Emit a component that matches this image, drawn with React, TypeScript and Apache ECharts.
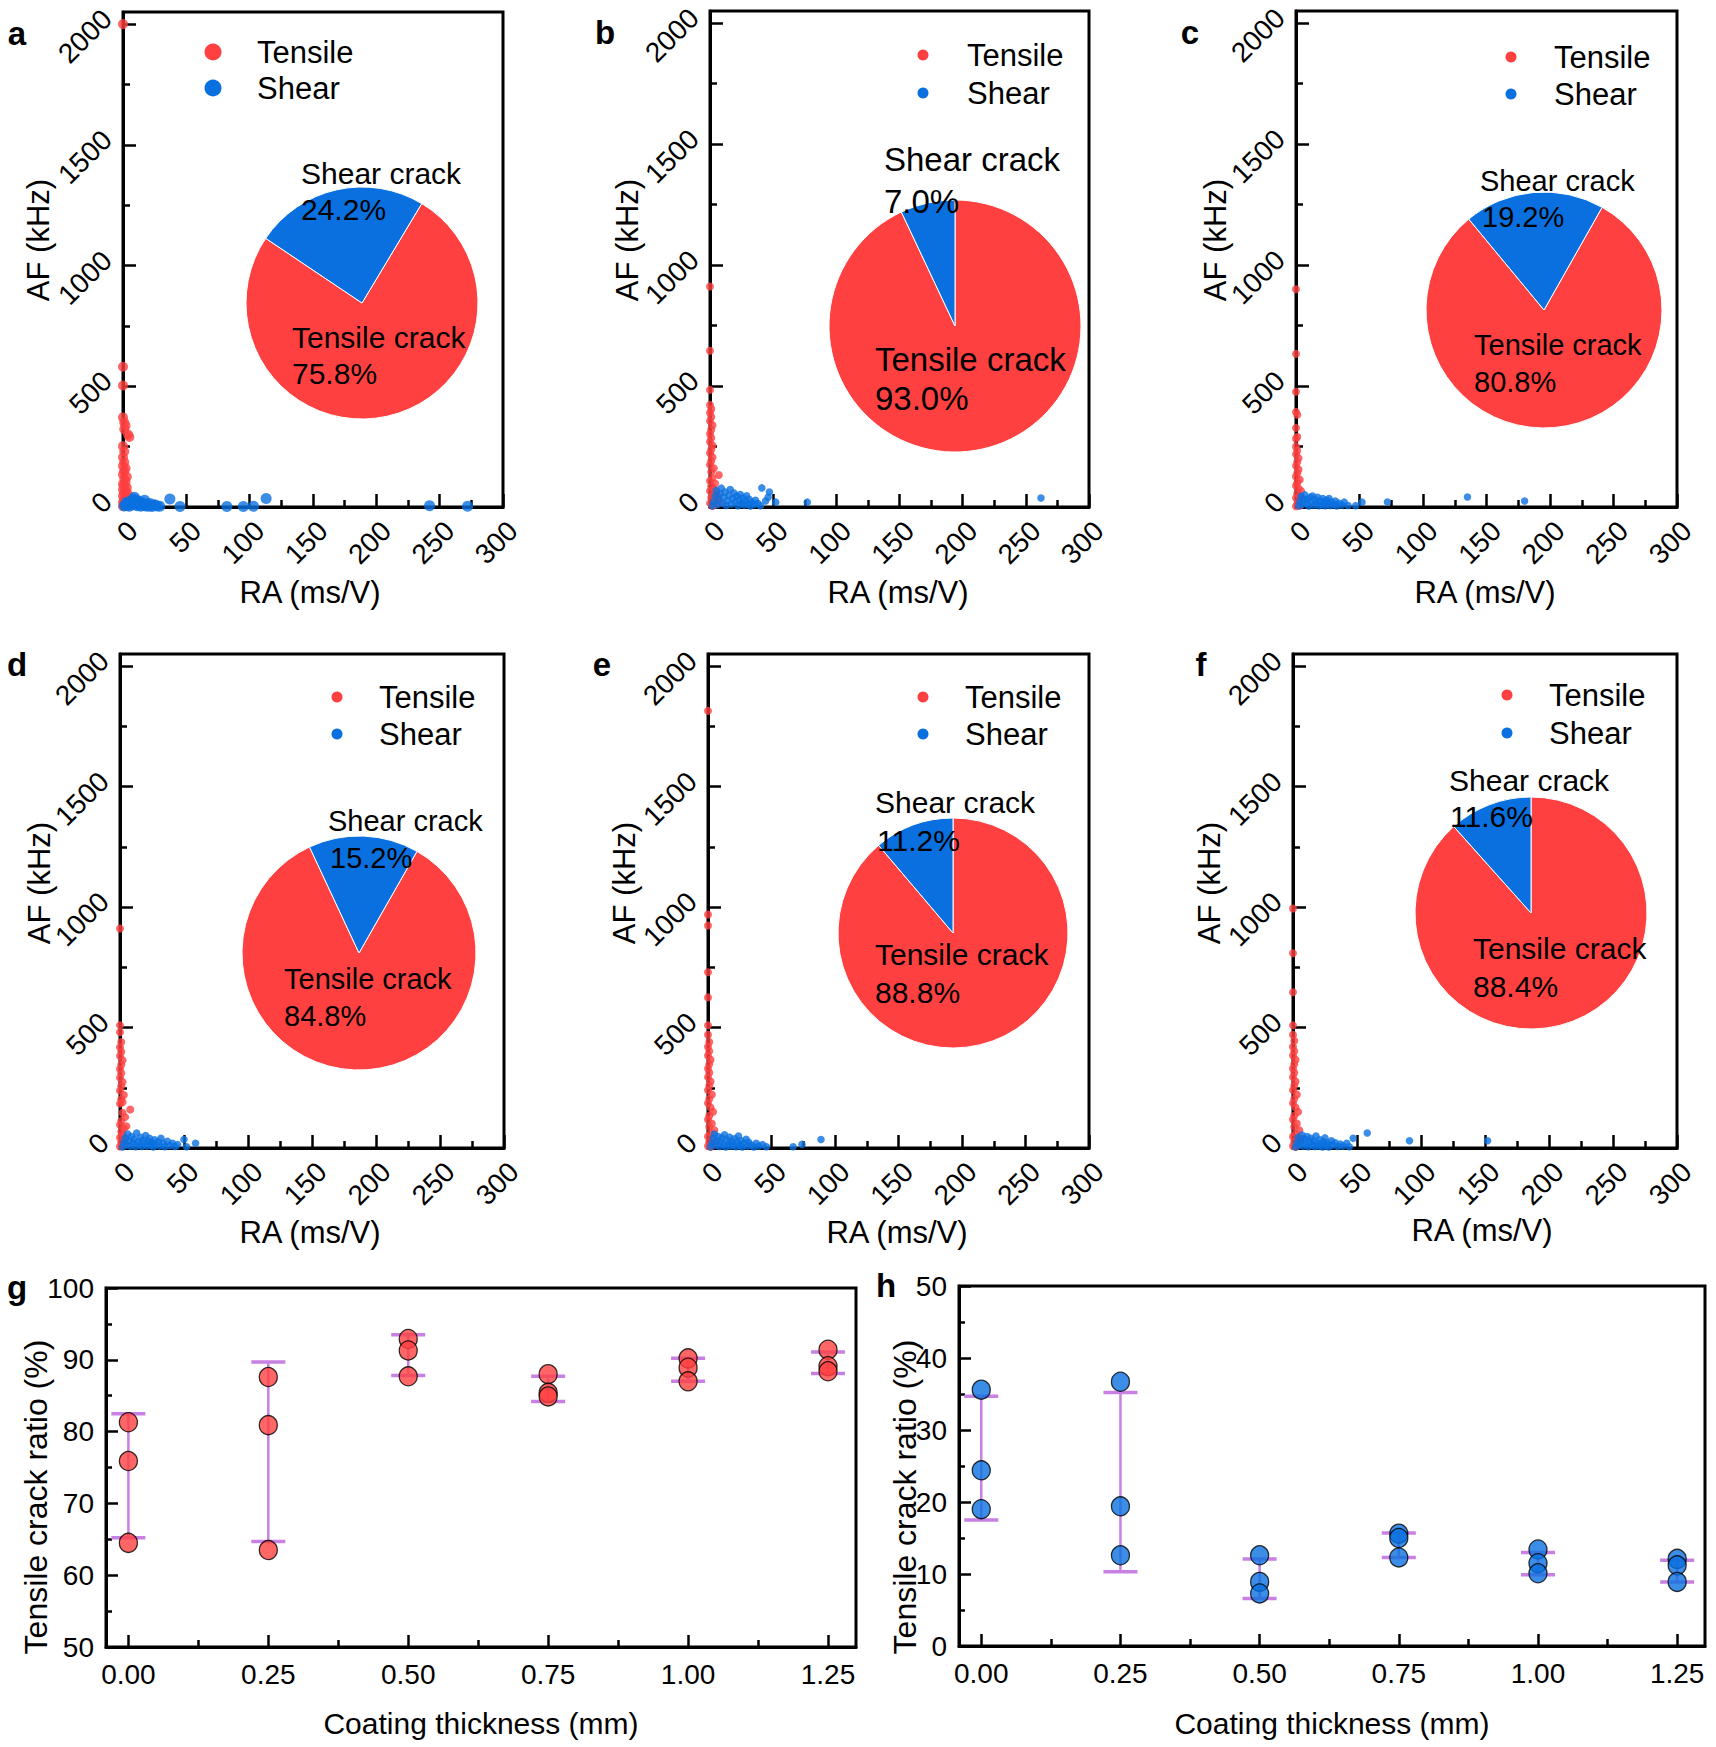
import React, { useEffect, useRef } from "react";
import * as echarts from "echarts";

// ---------------- DATA ----------------
// Panels a–f: [RA (ms/V), AF (kHz)]
const tensileA = [[0,2000],[0,581],[0,503],[0,371],[1,350],[2,336],[1,322],[4,300],[5,290],[0,252],[1,230],[0,206],[1,185],[0,170],[2,160],[1,148],[0,135],[3,125],[1,115],[2,105],[0,95],[1,88],[3,80],[0,72],[2,65],[1,58],[4,52],[0,46],[2,40],[3,34],[1,28],[5,24],[0,20],[2,15],[4,11],[1,8],[3,5],[0,3],[6,14],[2,28]];
const shearA = [[1,4],[2,10],[3,6],[4,16],[5,3],[6,24],[7,9],[8,32],[9,40],[10,14],[11,5],[12,26],[13,10],[14,3],[15,18],[16,7],[17,28],[18,4],[19,12],[20,3],[21,15],[22,7],[23,2],[25,9],[27,4],[29,3],[5,12],[3,20],[10,28],[13,20],[7,18],[11,12],[37,33],[45,2],[82,2],[95,2],[103,3],[113,35],[242,5],[272,3]];
const tensileB = [[0,911],[0,646],[0,484],[0,422],[1,405],[0,390],[1,372],[0,355],[2,338],[1,320],[0,303],[1,286],[0,270],[2,254],[1,238],[0,222],[2,206],[1,190],[0,175],[3,160],[1,146],[7,132],[2,120],[0,108],[4,97],[1,86],[3,76],[0,66],[5,56],[2,47],[1,38],[6,30],[3,22],[0,15],[4,9],[2,4],[8,18],[6,44]];
const shearB = [[2,5],[3,22],[4,45],[5,68],[6,10],[7,32],[8,55],[9,78],[10,16],[11,40],[12,62],[13,6],[14,26],[15,48],[16,72],[17,12],[18,35],[19,58],[20,20],[21,44],[22,5],[23,30],[24,52],[25,14],[26,38],[27,8],[28,24],[29,46],[30,12],[31,32],[32,4],[33,20],[35,10],[36,28],[38,14],[40,5],[41,79],[47,62],[44,25],[46,40],[52,20],[77,20],[262,37]];
const tensileC = [[0,900],[0,633],[0,476],[0,393],[1,381],[0,327],[1,290],[0,282],[0,250],[1,234],[0,218],[2,202],[1,186],[0,170],[2,155],[1,140],[0,126],[3,113],[1,100],[0,88],[2,77],[4,66],[1,56],[3,46],[0,37],[5,28],[2,20],[1,12],[3,5],[0,3]];
const shearC = [[2,5],[3,24],[4,44],[5,10],[6,34],[7,50],[8,15],[9,30],[10,4],[11,40],[12,20],[13,45],[14,8],[15,30],[16,15],[17,40],[18,5],[19,25],[20,10],[21,35],[22,18],[23,5],[24,28],[25,12],[26,35],[27,6],[28,20],[30,10],[31,25],[32,4],[34,15],[36,8],[38,20],[41,6],[47,5],[52,20],[72,21],[135,41],[180,25]];
const tensileD = [[0,911],[0,509],[0,480],[1,440],[0,418],[1,400],[0,382],[2,364],[1,346],[0,328],[1,310],[0,292],[2,274],[1,256],[0,238],[3,220],[1,202],[0,184],[8,160],[2,146],[4,128],[1,112],[0,96],[3,82],[1,68],[2,55],[0,44],[4,34],[1,24],[3,14],[0,6],[5,90],[2,190]];
const shearD = [[2,4],[3,22],[4,42],[5,12],[6,58],[7,30],[8,8],[9,48],[10,20],[11,36],[12,5],[13,62],[14,26],[15,14],[16,44],[17,6],[18,32],[19,18],[20,52],[21,8],[22,28],[23,40],[24,12],[25,22],[26,4],[27,34],[28,14],[30,26],[31,8],[32,40],[34,18],[35,5],[37,28],[39,10],[41,20],[43,6],[45,14],[50,35],[52,5],[59,20]];
const tensileE = [[0,1814],[0,969],[0,923],[0,729],[0,625],[0,509],[0,470],[1,440],[0,420],[1,402],[0,384],[2,366],[1,348],[0,330],[1,312],[0,294],[2,276],[1,258],[0,240],[3,222],[1,204],[0,186],[2,168],[4,150],[1,134],[0,118],[3,102],[1,88],[5,74],[2,60],[0,48],[4,36],[1,26],[3,16],[0,8],[6,20],[2,4]];
const shearE = [[2,5],[3,20],[4,40],[5,58],[6,12],[7,30],[8,48],[9,6],[10,25],[11,42],[12,14],[13,55],[14,4],[15,32],[16,18],[17,45],[18,8],[19,28],[20,12],[21,38],[22,5],[23,22],[24,50],[25,10],[26,30],[27,4],[28,18],[30,36],[31,8],[32,24],[34,12],[36,4],[38,20],[40,8],[43,14],[46,5],[67,5],[74,15],[89,35]];
const tensileF = [[0,994],[0,808],[0,646],[0,509],[0,470],[1,445],[0,420],[1,402],[0,384],[2,366],[1,348],[0,330],[1,312],[0,294],[2,276],[1,258],[0,240],[3,222],[1,204],[0,186],[2,168],[4,150],[1,134],[0,118],[3,102],[1,88],[5,74],[2,60],[0,48],[4,36],[1,26],[3,16],[0,8],[7,40],[2,4]];
const shearF = [[2,4],[3,22],[4,44],[5,12],[6,30],[7,54],[8,8],[9,36],[10,18],[11,48],[12,5],[13,26],[14,40],[15,12],[16,30],[17,6],[18,50],[19,20],[20,8],[21,34],[22,14],[23,4],[24,26],[25,42],[26,10],[27,20],[28,4],[30,30],[31,12],[33,22],[35,6],[37,16],[39,8],[42,20],[44,5],[47,40],[58,62],[91,30],[152,30]];

// Inset pies (%)
const pieTensile = [75.8, 93.0, 80.8, 84.8, 88.8, 88.4];
const pieShear = [24.2, 7.0, 19.2, 15.2, 11.2, 11.6];

// Axis ticks
const afTicks = [0, 500, 1000, 1500, 2000];
const thickness = [0, 0.25, 0.5, 0.75, 1.0, 1.25];
const thicknessMinor = [0.125, 0.375, 0.625, 0.875, 1.125];

// Panel g: tensile crack ratio (%), three specimens + error bar limits
const tensileRun1 = [81.3, 87.6, 92.9, 88.0, 90.2, 91.4];
const tensileRun2 = [75.9, 80.9, 91.3, 85.4, 88.9, 89.1];
const tensileRun3 = [64.5, 63.5, 87.7, 84.9, 87.0, 88.4];
const tensileLow = [65.2, 64.7, 87.8, 84.2, 87.0, 88.1];
const tensileHigh = [82.5, 89.7, 93.5, 87.7, 90.2, 91.1];

// Panel h
const shearRun1 = [35.6, 36.7, 12.6, 15.6, 13.4, 12.1];
const shearRun2 = [24.4, 19.4, 8.9, 15.0, 11.5, 11.2];
const shearRun3 = [19.0, 12.6, 7.3, 12.3, 10.1, 8.9];
const shearLow = [17.5, 10.3, 6.6, 12.3, 9.9, 8.9];
const shearHigh = [34.7, 35.2, 12.1, 15.7, 13.0, 11.9];

// ---------------- LAYOUT / STYLE ----------------
const FONT = "'Liberation Sans', Arial, Helvetica, sans-serif";
const RED = "#FF4040";
const BLUE = "#0A70E0";
const BAR = "#C880E2";

const tensileSets = [tensileA, tensileB, tensileC, tensileD, tensileE, tensileF];
const shearSets = [shearA, shearB, shearC, shearD, shearE, shearF];

const scatterGrids = [
  { left: 123, top: 12, width: 380, height: 495 },
  { left: 710, top: 11, width: 379, height: 496 },
  { left: 1296, top: 11, width: 381, height: 496 },
  { left: 120, top: 654, width: 384, height: 494 },
  { left: 708, top: 654, width: 381, height: 494 },
  { left: 1293, top: 654, width: 384, height: 494 },
];
const gGrid = { left: 106, top: 1288, width: 750, height: 359 };
const hGrid = { left: 959, top: 1286, width: 746, height: 360 };

const pieCenters = [[362, 303], [955, 326], [1544, 310], [359, 953], [953, 933], [1531, 913]];
const pieRadii = [116, 126, 118, 117, 115, 116];
const pieStart = [59, 90, 60.5, 60.3, 90, 90];

// legend: dot centre x, red dot y, blue dot y, dot radius, text x
const legendPos = [[213, 52, 88, 8.5, 257], [923, 55, 93, 5.5, 967], [1511, 57, 94, 5.5, 1554], [337, 697, 734, 5.5, 379], [923, 697, 734, 5.5, 965], [1507, 695, 733, 5.5, 1549]];

const shearLabelXY = [[301, 173], [884, 159], [1480, 181], [328, 821], [875, 802], [1449, 780]];
const shearPctXY = [[301, 209], [884, 201], [1482, 217], [330, 858], [877, 840], [1450, 816]];
const tensileLabelXY = [[292, 337], [875, 359], [1474, 345], [284, 979], [875, 954], [1473, 948]];
const tensilePctXY = [[292, 373], [875, 398], [1474, 382], [284, 1016], [875, 992], [1473, 986]];
const pieFont = [30, 33, 29, 29, 30, 30];

const afTitleXY = [[38, 240], [627, 240], [1215, 240], [39, 883], [624, 883], [1209, 883]];
const raTitleXY = [[310, 592], [898, 592], [1485, 592], [310, 1232], [897, 1232], [1482, 1230]];
const letters = ["a", "b", "c", "d", "e", "f", "g", "h"];
const letterXY = [[17, 33], [605, 32], [1190, 32], [17, 664], [602, 664], [1201, 664], [17, 1287], [886, 1285]];

function buildOption() {
  const grid: any[] = [];
  const xAxis: any[] = [];
  const yAxis: any[] = [];
  const series: any[] = [];
  const graphic: any[] = [];

  const lineSt = { color: "#000", width: 3 };
  const tickSt = { color: "#000", width: 2.5 };
  const boxed = { show: true, borderColor: "#000", borderWidth: 3, backgroundColor: "transparent" };
  const plain = (v: number) => String(v);

  scatterGrids.forEach((g, i) => {
    grid.push({ ...g, ...boxed });
    xAxis.push({
      gridIndex: i, type: "value", min: 0, max: 300, interval: 50,
      axisLine: { show: true, onZero: false, lineStyle: lineSt },
      axisTick: { show: true, inside: true, length: 13, lineStyle: tickSt },
      minorTick: { show: true, splitNumber: 2, length: 7, lineStyle: tickSt },
      splitLine: { show: false },
      axisLabel: { rotate: 45, margin: 9, align: "right", verticalAlign: "top", fontSize: 28, color: "#000", fontFamily: FONT, formatter: plain },
    });
    yAxis.push({
      gridIndex: i, type: "value", min: 0, max: 2050, interval: 500,
      axisLine: { show: true, onZero: false, lineStyle: lineSt },
      axisTick: { show: true, inside: true, length: 13, lineStyle: tickSt, customValues: afTicks },
      minorTick: { show: true, splitNumber: 2, length: 7, lineStyle: tickSt },
      splitLine: { show: false },
      axisLabel: { rotate: 45, margin: 6, align: "right", verticalAlign: "bottom", fontSize: 28, color: "#000", fontFamily: FONT, customValues: afTicks, formatter: plain },
    });
    series.push({
      type: "scatter", name: "Tensile", xAxisIndex: i, yAxisIndex: i, data: tensileSets[i],
      symbolSize: i === 0 ? 10 : 8, itemStyle: { color: RED }, clip: false, z: 3, silent: true,
    });
    series.push({
      type: "scatter", name: "Shear", xAxisIndex: i, yAxisIndex: i, data: shearSets[i],
      symbolSize: i === 0 ? 11 : 7.5, itemStyle: { color: BLUE }, clip: false, z: 4, silent: true,
    });
    series.push({
      type: "pie", center: pieCenters[i], radius: pieRadii[i], startAngle: pieStart[i], clockwise: true,
      label: { show: false }, labelLine: { show: false }, silent: true, z: 5,
      itemStyle: { borderColor: "#fff", borderWidth: 1 },
      data: [
        { name: "Tensile crack", value: pieTensile[i], itemStyle: { color: RED } },
        { name: "Shear crack", value: pieShear[i], itemStyle: { color: BLUE } },
      ],
    });
    // legend (drawn as graphic so that symbol/text spacing matches)
    const [cx, ry, by, r, tx] = legendPos[i];
    graphic.push({ type: "circle", shape: { cx, cy: ry, r }, style: { fill: RED } });
    graphic.push({ type: "circle", shape: { cx, cy: by, r }, style: { fill: BLUE } });
    const lt = (text: string, y: number) => ({
      type: "text", x: tx, y,
      style: { text, fontSize: 31, fontFamily: FONT, fill: "#000", align: "left", verticalAlign: "middle" },
    });
    graphic.push(lt("Tensile", ry));
    graphic.push(lt("Shear", by));

    const pf = pieFont[i];
    const t = (text: string, xy: number[], size: number) => ({
      type: "text", x: xy[0], y: xy[1], z: 100,
      style: { text, fontSize: size, fontFamily: FONT, fill: "#000", align: "left", verticalAlign: "middle" },
    });
    graphic.push(t("Shear crack", shearLabelXY[i], pf));
    graphic.push(t(pieShear[i].toFixed(1) + "%", shearPctXY[i], pf));
    graphic.push(t("Tensile crack", tensileLabelXY[i], pf));
    graphic.push(t(pieTensile[i].toFixed(1) + "%", tensilePctXY[i], pf));
    graphic.push({
      type: "text", x: afTitleXY[i][0], y: afTitleXY[i][1], rotation: Math.PI / 2,
      style: { text: "AF (kHz)", fontSize: 31, fontFamily: FONT, fill: "#000", align: "center", verticalAlign: "middle" },
    });
    graphic.push({
      type: "text", x: raTitleXY[i][0], y: raTitleXY[i][1],
      style: { text: "RA (ms/V)", fontSize: 31, fontFamily: FONT, fill: "#000", align: "center", verticalAlign: "middle" },
    });
  });

  // Panels g and h
  const bottomPanels = [
    { g: gGrid, min: 50, max: 100, runs: [tensileRun1, tensileRun2, tensileRun3], low: tensileLow, high: tensileHigh, color: RED, titleX: 36, coatX: 481 },
    { g: hGrid, min: 0, max: 50, runs: [shearRun1, shearRun2, shearRun3], low: shearLow, high: shearHigh, color: BLUE, titleX: 905, coatX: 1332 },
  ];
  bottomPanels.forEach((p, k) => {
    const gi = 6 + k;
    const xi = 6 + k * 2;
    grid.push({ ...p.g, ...boxed });
    xAxis.push({
      gridIndex: gi, type: "value", min: -0.04, max: 1.3, position: "bottom",
      axisLine: { show: true, onZero: false, lineStyle: lineSt },
      axisTick: { show: true, inside: true, length: 12, lineStyle: tickSt, customValues: thickness },
      splitLine: { show: false },
      axisLabel: { customValues: thickness, formatter: (v: number) => v.toFixed(2), fontSize: 28, margin: 13, color: "#000", fontFamily: FONT },
    });
    xAxis.push({
      gridIndex: gi, type: "value", min: -0.04, max: 1.3, position: "bottom",
      axisLine: { show: false },
      axisTick: { show: true, inside: true, length: 7, lineStyle: tickSt, customValues: thicknessMinor },
      axisLabel: { show: false, customValues: thicknessMinor },
      splitLine: { show: false },
    });
    yAxis.push({
      gridIndex: gi, type: "value", min: p.min, max: p.max, interval: 10,
      axisLine: { show: true, onZero: false, lineStyle: lineSt },
      axisTick: { show: true, inside: true, length: 12, lineStyle: tickSt },
      minorTick: { show: true, splitNumber: 2, length: 6, lineStyle: tickSt },
      splitLine: { show: false },
      axisLabel: { fontSize: 28, margin: 12, color: "#000", fontFamily: FONT },
    });
    series.push({
      type: "custom", xAxisIndex: xi, yAxisIndex: gi, silent: true, z: 2,
      data: thickness.map((x, i) => [x, p.low[i], p.high[i]]),
      encode: { x: 0, y: [1, 2] },
      renderItem: (_params: any, api: any) => {
        const x = api.value(0);
        const a = api.coord([x, api.value(1)]);
        const b = api.coord([x, api.value(2)]);
        const hw = 17;
        return {
          type: "group",
          children: [
            { type: "line", shape: { x1: a[0], y1: a[1], x2: b[0], y2: b[1] }, style: { stroke: BAR, lineWidth: 2.5 } },
            { type: "line", shape: { x1: a[0] - hw, y1: a[1], x2: a[0] + hw, y2: a[1] }, style: { stroke: BAR, lineWidth: 3.5 } },
            { type: "line", shape: { x1: b[0] - hw, y1: b[1], x2: b[0] + hw, y2: b[1] }, style: { stroke: BAR, lineWidth: 3.5 } },
          ],
        };
      },
    });
    p.runs.forEach((run) => {
      series.push({
        type: "scatter", xAxisIndex: xi, yAxisIndex: gi, silent: true, z: 5, clip: false,
        data: thickness.map((x, i) => [x, run[i]]),
        symbolSize: [18, 19], itemStyle: { color: p.color, borderColor: "#000", borderWidth: 1.3 },
      });
    });
    graphic.push({
      type: "text", x: p.titleX, y: 1497, rotation: Math.PI / 2,
      style: { text: "Tensile crack ratio (%)", fontSize: 32, fontFamily: FONT, fill: "#000", align: "center", verticalAlign: "middle" },
    });
    graphic.push({
      type: "text", x: p.coatX, y: 1723,
      style: { text: "Coating thickness (mm)", fontSize: 30, fontFamily: FONT, fill: "#000", align: "center", verticalAlign: "middle" },
    });
  });

  letters.forEach((l, i) => {
    graphic.push({
      type: "text", x: letterXY[i][0], y: letterXY[i][1],
      style: { text: l, fontSize: 33, fontWeight: "bold", fontFamily: FONT, fill: "#000", align: "center", verticalAlign: "middle" },
    });
  });

  return { animation: false, backgroundColor: "#fff", grid, xAxis, yAxis, series, graphic };
}

export default function App() {
  const ref = useRef<HTMLDivElement>(null);
  useEffect(() => {
    document.body.style.margin = "0";
    const chart = echarts.init(ref.current as HTMLDivElement, null, { renderer: "svg" });
    chart.setOption(buildOption() as any);
    return () => chart.dispose();
  }, []);
  return <div ref={ref} style={{ width: 1716, height: 1747 }} />;
}
